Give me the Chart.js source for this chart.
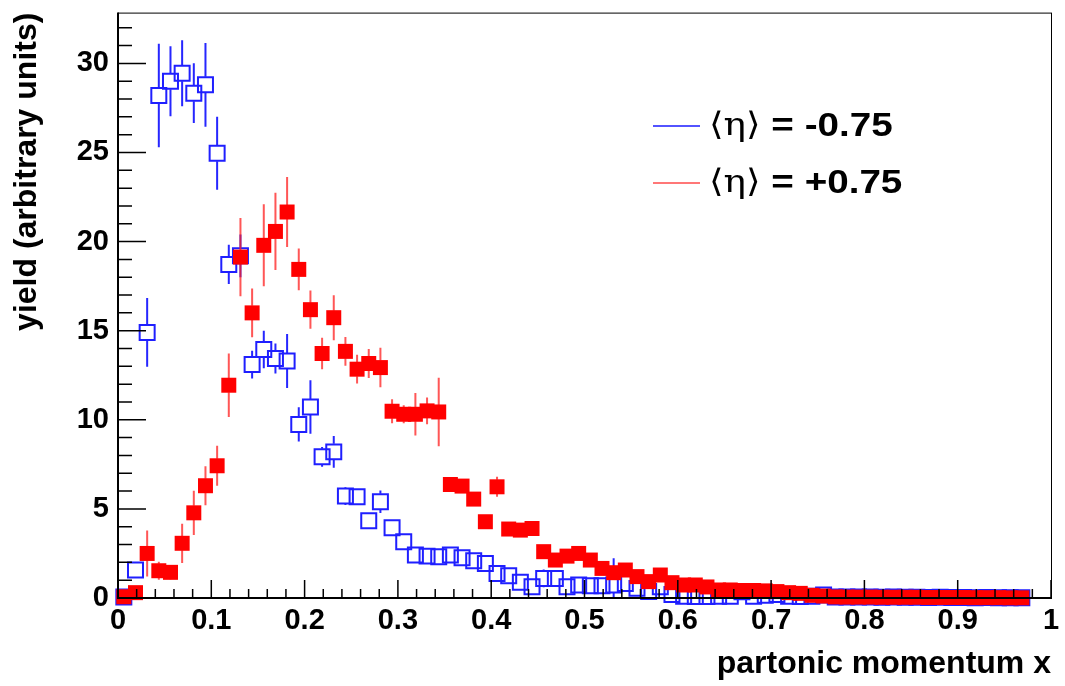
<!DOCTYPE html>
<html>
<head>
<meta charset="utf-8">
<script src="https://cdn.jsdelivr.net/npm/chart.js@4.4.0/dist/chart.umd.min.js"></script>
<style>
  html, body { margin: 0; padding: 0; background: #fff; }
  #wrap { width: 1065px; height: 686px; }
</style>
</head>
<body>
<div id="wrap"><canvas id="chart" width="1065" height="686"></canvas></div>
<script>
// bin centres (bin width 0.0125)
var binCenters = [
  0.00625, 0.01875, 0.03125, 0.04375, 0.05625, 0.06875, 0.08125, 0.09375, 0.10625, 0.11875,
  0.13125, 0.14375, 0.15625, 0.16875, 0.18125, 0.19375, 0.20625, 0.21875, 0.23125, 0.24375,
  0.25625, 0.26875, 0.28125, 0.29375, 0.30625, 0.31875, 0.33125, 0.34375, 0.35625, 0.36875,
  0.38125, 0.39375, 0.40625, 0.41875, 0.43125, 0.44375, 0.45625, 0.46875, 0.48125, 0.49375,
  0.50625, 0.51875, 0.53125, 0.54375, 0.55625, 0.56875, 0.58125, 0.59375, 0.60625, 0.61875,
  0.63125, 0.64375, 0.65625, 0.66875, 0.68125, 0.69375, 0.70625, 0.71875, 0.73125, 0.74375,
  0.75625, 0.76875, 0.78125, 0.79375, 0.80625, 0.81875, 0.83125, 0.84375, 0.85625, 0.86875,
  0.88125, 0.89375, 0.90625, 0.91875, 0.93125, 0.94375, 0.95625, 0.96875
];

// <eta> = -0.75 (open blue squares)
var yieldNeg = [
  0.05, 1.57, 14.9, 28.2, 29.0, 29.45, 28.33, 28.8, 24.96, 18.72,
  19.2, 13.1, 13.94, 13.44, 13.3, 9.74, 10.72, 7.92, 8.2, 5.72,
  5.68, 4.33, 5.4, 3.94, 3.16, 2.41, 2.35, 2.32, 2.41, 2.26,
  2.09, 1.94, 1.38, 1.25, 0.88, 0.63, 1.1, 1.1, 0.63, 0.73,
  0.69, 0.69, 0.73, 0.82, 0.54, 0.36, 0.63, 0.2, 0.1, 0.08,
  0.08, 0.1, 0.1, 0.35, 0.1, 0.15, 0.2, 0.1, 0.08, 0.1,
  0.17, 0.06, 0.05, 0.06, 0.05, 0.04, 0.05, 0.04, 0.04, 0.03,
  0.04, 0.03, 0.03, 0.02, 0.03, 0.02, 0.02, 0.02
];
var errNeg = [
  0.1, 0.4, 1.93, 2.9, 1.96, 1.85, 1.68, 2.35, 2.05, 1.1,
  1.2, 0.78, 1.05, 0.84, 1.52, 0.96, 1.5, 0.56, 0.89, 0.5,
  0.35, 0.3, 0.63, 0.3, 0.3, 0.25, 0.25, 0.25, 0.25, 0.25,
  0.25, 0.25, 0.2, 0.2, 0.2, 0.2, 0.5, 0.3, 0.2, 0.2,
  0.2, 0.2, 1.5, 0.3, 0.2, 0.2, 0.3, 0.1, 0.1, 0.1,
  0.1, 0.1, 0.1, 0.1, 0.1, 0.1, 0.1, 0.1, 0.1, 0.1,
  0.1, 0.1, 0.1, 0.1, 0.1, 0.1, 0.1, 0.1, 0.1, 0.1,
  0.1, 0.1, 0.1, 0.1, 0.1, 0.1, 0.1, 0.1
];

// <eta> = +0.75 (filled red squares)
var yieldPos = [
  0.07, 0.3, 2.5, 1.53, 1.44, 3.07, 4.78, 6.3, 7.42, 11.94,
  19.13, 16.0, 19.79, 20.57, 21.66, 18.44, 16.18, 13.72, 15.73, 13.84,
  12.84, 13.16, 12.93, 10.48, 10.31, 10.31, 10.5, 10.44, 6.37, 6.28,
  5.55, 4.28, 6.24, 3.87, 3.81, 3.9, 2.6, 2.13, 2.35, 2.5,
  2.13, 1.66, 1.42, 1.57, 1.2, 0.92, 1.29, 0.86, 0.73, 0.73,
  0.62, 0.45, 0.45, 0.42, 0.42, 0.4, 0.36, 0.3, 0.26, 0.15,
  0.11, 0.06, 0.05, 0.05, 0.05, 0.04, 0.04, 0.04, 0.04, 0.03,
  0.03, 0.03, 0.03, 0.02, 0.02, 0.02, 0.01, 0.01
];
var errPos = [
  0.1, 0.15, 1.29, 0.5, 0.4, 1.1, 1.24, 1.1, 1.12, 1.78,
  2.2, 1.37, 2.3, 2.17, 1.96, 1.17, 1.07, 0.89, 1.26, 0.81,
  0.81, 0.81, 1.11, 0.67, 0.5, 1.19, 0.75, 1.92, 0.3, 0.3,
  0.25, 0.25, 0.56, 0.3, 0.25, 0.25, 0.25, 0.2, 0.2, 0.2,
  0.2, 0.2, 0.2, 0.2, 0.2, 0.2, 0.2, 0.2, 0.15, 0.15,
  0.15, 0.15, 0.1, 0.1, 0.1, 0.1, 0.1, 0.1, 0.1, 0.1,
  0.1, 0.05, 0.05, 0.05, 0.05, 0.05, 0.05, 0.05, 0.05, 0.05,
  0.05, 0.05, 0.05, 0.05, 0.05, 0.05, 0.05, 0.05
];

var seriesLabels = ['⟨η⟩ = -0.75', '⟨η⟩ = +0.75'];
var xTickLabels = ['0', '0.1', '0.2', '0.3', '0.4', '0.5', '0.6', '0.7', '0.8', '0.9', '1'];
var yTickLabels = ['0', '5', '10', '15', '20', '25', '30'];

function points(ys) {
  return binCenters.map(function (x, i) { return { x: x, y: ys[i] }; });
}

// error bars drawn just before each dataset's markers, skipping the marker box
var errorBars = {
  id: 'errorBars',
  beforeDatasetDraw: function (chart, args) {
    var ds = chart.data.datasets[args.index];
    var ys = chart.scales.y, ctx = chart.ctx;
    var half = ds.markerHalf;
    ctx.save();
    ctx.strokeStyle = ds.errColor;
    ctx.lineWidth = 2;
    ctx.beginPath();
    args.meta.data.forEach(function (pt, i) {
      var v = ds.data[i].y, e = ds.errors[i];
      var top = ys.getPixelForValue(v + e);
      var bot = ys.getPixelForValue(Math.max(0, v - e));
      if (top < pt.y - half) { ctx.moveTo(pt.x, top); ctx.lineTo(pt.x, pt.y - half); }
      if (bot > pt.y + half) { ctx.moveTo(pt.x, pt.y + half); ctx.lineTo(pt.x, bot); }
    });
    ctx.stroke();
    ctx.restore();
  }
};

// ROOT-like frame with inward ticks, plus the legend in the top right
var frame = {
  id: 'frame',
  afterDraw: function (chart) {
    var ctx = chart.ctx, a = chart.chartArea;
    var xs = chart.scales.x, ys = chart.scales.y;
    ctx.save();
    ctx.strokeStyle = '#000';
    ctx.lineWidth = 1;
    ctx.strokeRect(a.left + 0.5, a.top + 0.5, a.right - a.left, a.bottom - a.top);
    ctx.lineWidth = 2;
    ctx.beginPath();
    ctx.moveTo(a.left, a.top); ctx.lineTo(a.left, a.bottom); ctx.lineTo(a.right, a.bottom);
    ctx.stroke();

    ctx.lineWidth = 1.5;
    ctx.beginPath();
    for (var k = 0; k <= 50; k++) {
      var px = xs.getPixelForValue(k * 0.02);
      var len = (k % 5 === 0) ? 18 : 9;
      ctx.moveTo(px, a.bottom); ctx.lineTo(px, a.bottom - len);
    }
    for (var j = 0; j <= Math.floor(ys.max); j++) {
      var py = ys.getPixelForValue(j);
      var l2 = (j % 5 === 0) ? 28 : 14;
      ctx.moveTo(a.left, py); ctx.lineTo(a.left + l2, py);
    }
    ctx.stroke();

    // legend (text widened a little, like the original rendering)
    var rows = [126, 183];
    chart.data.datasets.forEach(function (ds, i) {
      var y = rows[i];
      ctx.strokeStyle = ds.legendColor;
      ctx.lineWidth = 1.5;
      ctx.beginPath(); ctx.moveTo(653, y); ctx.lineTo(700, y); ctx.stroke();
      var m = ds.label.match(/^(\S+)(.*)$/);
      ctx.save();
      ctx.translate(709, y);
      ctx.scale(1.17, 1);
      ctx.fillStyle = '#000';
      ctx.textBaseline = 'middle';
      ctx.font = '32px "DejaVu Serif"';
      ctx.fillText(m[1], 0, 1);
      var w = ctx.measureText(m[1]).width;
      ctx.font = 'bold 33px "Liberation Sans"';
      ctx.fillText(m[2], w, 1);
      ctx.restore();
    });
    ctx.restore();
  }
};

new Chart(document.getElementById('chart'), {
  type: 'scatter',
  data: {
    datasets: [
      {
        label: seriesLabels[0],
        data: points(yieldNeg),
        errors: errNeg,
        errColor: '#2626ff',
        legendColor: '#1a1aff',
        markerHalf: 8,
        pointStyle: 'rect',
        pointRadius: 10.6,
        pointHoverRadius: 10.6,
        borderWidth: 2,
        borderColor: '#1f1fff',
        backgroundColor: 'rgba(0,0,0,0)',
        clip: false,
        order: 1
      },
      {
        label: seriesLabels[1],
        data: points(yieldPos),
        errors: errPos,
        errColor: 'rgba(255,30,30,0.75)',
        legendColor: '#ff4a4a',
        markerHalf: 7,
        pointStyle: 'rect',
        pointRadius: 10.6,
        pointHoverRadius: 10.6,
        borderWidth: 0,
        backgroundColor: '#ff0000',
        clip: false,
        order: 0
      }
    ]
  },
  options: {
    responsive: false,
    animation: false,
    devicePixelRatio: 1,
    layout: { padding: { left: 0, right: 14, top: 12, bottom: 0 } },
    plugins: { legend: { display: false }, tooltip: { enabled: false } },
    scales: {
      x: {
        type: 'linear',
        min: 0,
        max: 1,
        grid: { display: false, drawTicks: false },
        border: { display: false },
        afterFit: function (s) { s.height = 88; s.paddingLeft = 0; s.paddingRight = 0; },
        afterBuildTicks: function (s) {
          s.ticks = xTickLabels.map(function (t) { return { value: parseFloat(t) }; });
        },
        ticks: {
          autoSkip: false,
          maxRotation: 0,
          padding: 6,
          color: '#000',
          font: { family: 'Liberation Sans', size: 29, weight: 'bold' },
          callback: function (v, i) { return xTickLabels[i]; }
        },
        title: {
          display: true,
          text: 'partonic momentum x',
          align: 'end',
          color: '#000',
          padding: { top: 0, bottom: 3 },
          font: { family: 'Liberation Sans', size: 32, weight: 'bold' }
        }
      },
      y: {
        type: 'linear',
        min: 0,
        max: 32.85,
        grid: { display: false, drawTicks: false },
        border: { display: false },
        afterFit: function (s) { s.width = 118; s.paddingTop = 0; s.paddingBottom = 0; },
        afterBuildTicks: function (s) {
          s.ticks = yTickLabels.map(function (t) { return { value: parseFloat(t) }; });
        },
        ticks: {
          autoSkip: false,
          padding: 9,
          color: '#000',
          font: { family: 'Liberation Sans', size: 29, weight: 'bold' },
          callback: function (v, i) { return yTickLabels[i]; }
        },
        title: {
          display: true,
          text: 'yield (arbitrary units)',
          align: 'end',
          color: '#000',
          padding: { top: 8, bottom: 0 },
          font: { family: 'Liberation Sans', size: 32, weight: 'bold' }
        }
      }
    }
  },
  plugins: [errorBars, frame]
});
</script>
</body>
</html>
